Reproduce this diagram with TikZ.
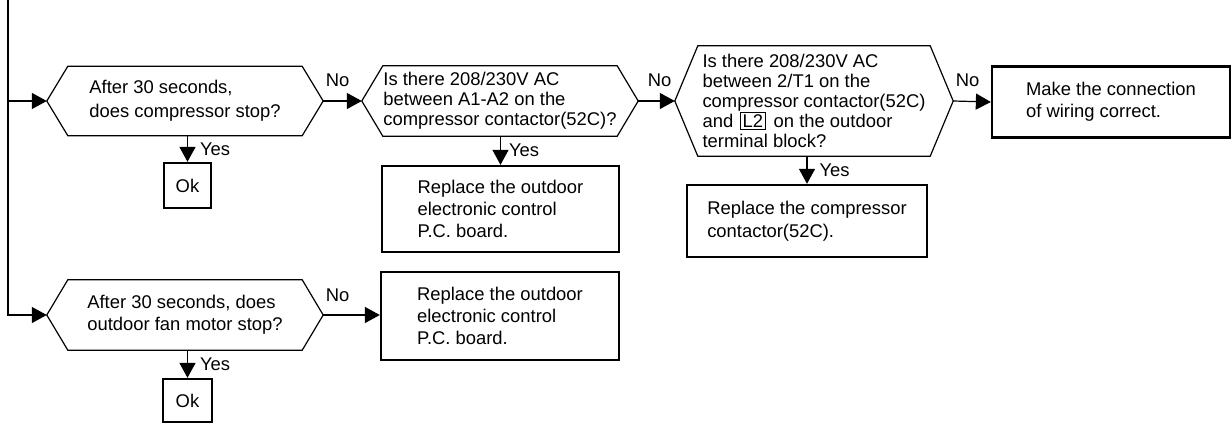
\documentclass[tikz,border=0pt]{standalone}
\usepackage{fontspec}
\setmainfont{Liberation Sans}
\usetikzlibrary{arrows.meta}
\definecolor{tsink}{HTML}{000000}
\tikzset{
  ts text/.style={font=\fontsize{18.4}{22}\selectfont, text=tsink},
  ts box/.style={draw=tsink, line width=2.3pt, align=left, inner sep=0pt},
  ts ask/.style={align=left, inner sep=0pt},
  ts frame/.style={draw=tsink, line width=1.2pt, line join=miter},
  ts arrow/.style={-{Triangle[length=15pt,width=16pt]}, line width=1.2pt, draw=tsink},
  ts no/.style={anchor=base west, inner sep=0pt, xshift=2pt, yshift=14pt},
  ts yes/.style={anchor=base west, inner sep=0pt, xshift=12pt, yshift=-20pt}
}
% hexagon outline round a question node: #1 node, #2 inset of the points
\newcommand{\askframe}[2]{%
  \draw[ts frame] (#1.west) -- ([xshift=#2]#1.north west) -- ([xshift=-#2]#1.north east)
    -- (#1.east) -- ([xshift=-#2]#1.south east) -- ([xshift=#2]#1.south west) -- cycle;}
\newcommand{\termbox}[1]{\hspace{2pt}{\setlength{\fboxsep}{1.5pt}\setlength{\fboxrule}{0.9pt}\fbox{#1}}\hspace{3pt}}

\begin{document}
\begin{tikzpicture}[ts text, x=1pt, y=-1pt]
  \useasboundingbox (0,0) rectangle (1231,425);
  % questions
  \node[ts ask, minimum width=276pt, minimum height=69pt, font=\fontsize{18.4}{24}\selectfont]
    (cmpstop) at (185,101) {After 30 seconds,\\does compressor stop?};
  \node[ts ask, minimum width=276pt, minimum height=70pt, font=\fontsize{18.4}{20}\selectfont]
    (a1a2) at (500,101) {Is there 208/230V AC\\between A1-A2 on the\\compressor contactor(52C)?};
  \node[ts ask, minimum width=278pt, minimum height=110pt, font=\fontsize{18.4}{20}\selectfont]
    (t1l2) at (814,101) {Is there 208/230V AC\\between 2/T1 on the\\compressor contactor(52C)\\and \termbox{L2} on the outdoor\\terminal block?};
  \node[ts ask, minimum width=276pt, minimum height=70pt]
    (fanstop) at (185,315) {After 30 seconds, does\\outdoor fan motor stop?};
  \askframe{cmpstop}{21}
  \askframe{a1a2}{21}
  \askframe{t1l2}{23}
  \askframe{fanstop}{21}
  % results
  \node[ts box, minimum width=47pt, minimum height=45pt] (ok1) at (187.5,185.5) {Ok};
  \node[ts box, minimum width=237pt, minimum height=86pt] (pcb1) at (500.5,209) {Replace the outdoor\\electronic control\\P.C. board.};
  \node[ts box, minimum width=240pt, minimum height=72pt, font=\fontsize{18.4}{23}\selectfont]
    (contactor) at (807,221) {Replace the compressor\\contactor(52C).};
  \node[ts box, minimum width=238pt, minimum height=71pt] (wiring) at (1111,102) {Make the connection\\of wiring correct.};
  \node[ts box, minimum width=238pt, minimum height=88pt] (pcb2) at (500,316) {Replace the outdoor\\electronic control\\P.C. board.};
  \node[ts box, minimum width=49pt, minimum height=43pt] (ok2) at (187.5,400.5) {Ok};
  % left feed
  \coordinate (bus) at (8,0);
  \draw[ts arrow] (bus) |- (fanstop.west);
  \draw[ts arrow] (bus |- cmpstop.west) -- (cmpstop.west);
  % No branches
  \draw[ts arrow] (cmpstop.east) -- node[ts no, pos=0] {No} (a1a2.west);
  \draw[ts arrow] (a1a2.east) -- node[ts no, pos=0, xshift=7pt] {No} (t1l2.west);
  \draw[ts arrow] (t1l2.east) -- node[ts no, pos=0] {No} (wiring.west);
  \draw[ts arrow] (fanstop.east) -- node[ts no, pos=0] {No} (fanstop.east -| pcb2.west);
  % Yes branches
  \draw[ts arrow] (ok1.north |- cmpstop.south) -- node[ts yes, pos=0] {Yes} (ok1.north);
  \draw[ts arrow] (pcb1.north |- a1a2.south) -- node[ts yes, pos=0, xshift=-4pt] {Yes} (pcb1.north);
  \draw[ts arrow] (contactor.north |- t1l2.south) -- node[ts yes, pos=0] {Yes} (contactor.north);
  \draw[ts arrow] (ok2.north |- fanstop.south) -- node[ts yes, pos=0] {Yes} (ok2.north);
\end{tikzpicture}
\end{document}
